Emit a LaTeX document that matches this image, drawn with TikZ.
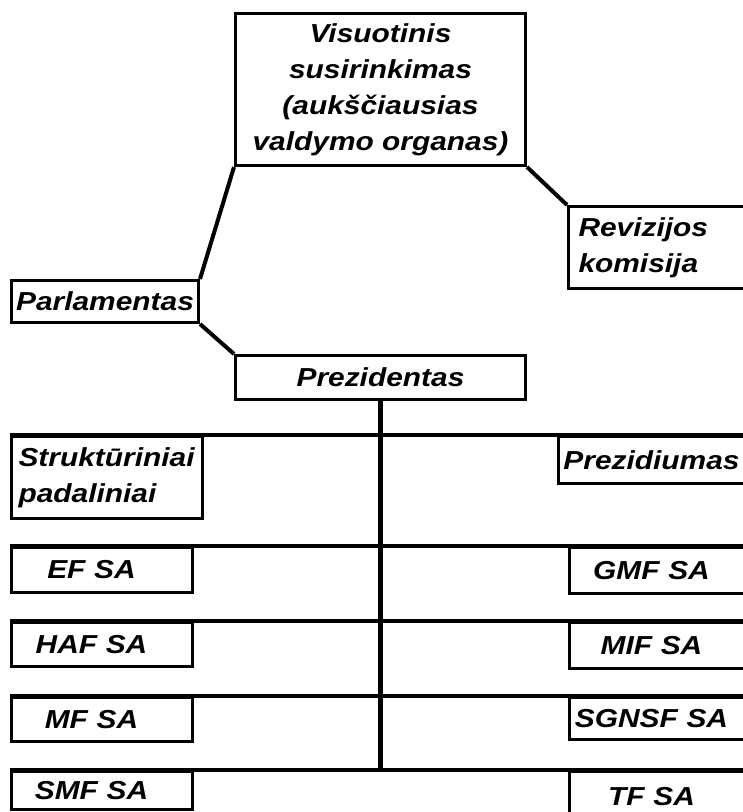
\documentclass[tikz,border=0pt]{standalone}
\usepackage{fontspec}
\newfontfamily\orgfont{Liberation Sans}[FakeStretch=1.15]
\newcommand{\inbox}[2]{\makebox[#1pt]{#2}}

\begin{document}
\begin{tikzpicture}[x=1pt, y=-1pt,
	box/.style={draw, line width=3pt, rectangle, anchor=north west, inner sep=0pt,
		font=\orgfont\bfseries\itshape\fontsize{26}{36}\selectfont},
	lbox/.style={box, text width=181pt, align=left},
	rbox/.style={box, text width=200pt, align=left},
	link/.style={line width=4pt},
	row/.style={line width=3.2pt}]

	\useasboundingbox (0,0) rectangle (743,812);

	\node[box, minimum width=290, minimum height=152, align=center] (vs) at (234,12)
		{Visuotinis\\susirinkimas\\(aukščiausias\\valdymo organas)};
	\node[box, text width=190pt, inner xsep=10pt, minimum height=82, align=left] (rev) at (567,205)
		{Revizijos\\komisija};
	\node[box, minimum width=187, minimum height=42] (parl) at (10,279) {Parlamentas};
	\node[box, minimum width=290, minimum height=44] (prez) at (234,354) {Prezidentas};

	\node[box, text width=177pt, inner xsep=7pt, minimum height=82, align=left] (strukt) at (10,435)
		{Struktūriniai\\padaliniai};
	\node[rbox, minimum height=47] (prezid) at (557,435) {\inbox{186}{Prezidiumas}};

	\node[lbox, minimum height=45] (ef) at (10,546) {\inbox{160}{EF SA}};
	\node[rbox, minimum height=46] (gmf) at (568,546) {\inbox{164}{GMF SA}};
	\node[lbox, minimum height=44] (haf) at (10,621) {\inbox{160}{HAF SA}};
	\node[rbox, minimum height=46] (mif) at (568,621) {\inbox{164}{MIF SA}};
	\node[lbox, minimum height=44] (mf) at (10,696) {\inbox{160}{MF SA}};
	\node[rbox, minimum height=42] (sgnsf) at (568,696) {\inbox{164}{SGNSF SA}};
	\node[lbox, minimum height=38] (smf) at (10,770) {\inbox{160}{SMF SA}};
	\node[rbox, minimum height=50] (tf) at (568,770) {\inbox{164}{TF SA}};

	\draw[link] (vs.south west) -- (parl.north east);
	\draw[link] (vs.south east) -- (rev.north west);
	\draw[link] (parl.south east) -- (prez.north west);

	\coordinate (end) at (prez.south |- smf.north);
	\draw[line width=5pt] (prez.south) -- (end);
	\foreach \l/\r in {strukt/prezid, ef/gmf, haf/mif, mf/sgnsf, smf/tf}
		\draw[row] (\l.north west) -- (\r.north east);

\end{tikzpicture}
\end{document}
